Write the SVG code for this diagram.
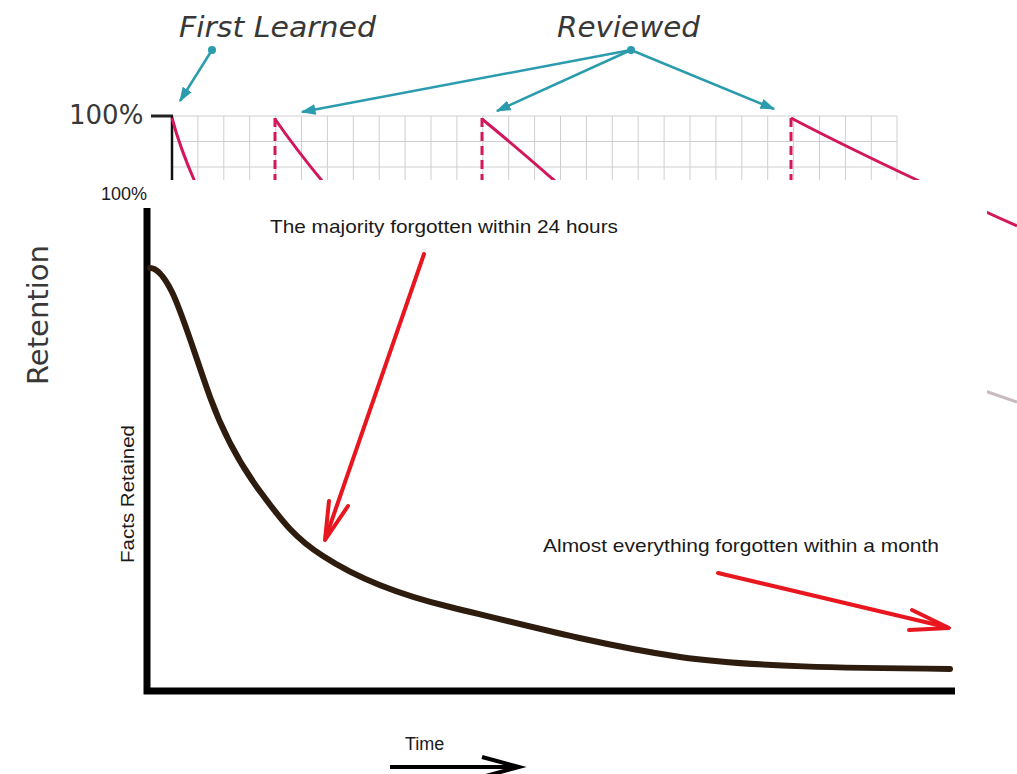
<svg xmlns="http://www.w3.org/2000/svg" width="1017" height="774" viewBox="0 0 1017 774">
<defs>
<style>
.bgtxt{font-family:"DejaVu Sans",Verdana,sans-serif;fill:#383838;}
.it{font-style:italic;}
.fgtxt{font-family:"Liberation Sans",Arial,sans-serif;fill:#1a1a1a;}
.grid line{stroke:#cfcfcf;stroke-width:1;}
.teal{stroke:#2a9cae;stroke-width:2.5;fill:none;}
.pink{stroke:#d3175c;stroke-width:3;fill:none;}
.pinkdash{stroke:#d3175c;stroke-width:3;stroke-dasharray:9 5;fill:none;}
.red{stroke:#e8161e;stroke-width:4;fill:none;stroke-linecap:round;stroke-linejoin:round;}
.axis{stroke:#000;stroke-width:7;fill:none;}
</style>
<marker id="tealHead" viewBox="0 0 10 10" refX="9" refY="5" markerWidth="6" markerHeight="6" orient="auto" markerUnits="strokeWidth">
<path d="M0,1.5 L10,5 L0,8.5 Z" fill="#2a9cae"/>
</marker>
</defs>
<rect width="1017" height="774" fill="#fff"/>

<!-- background spaced-repetition chart -->
<g id="background-chart">
  <g class="grid">
    <line x1="172" y1="116" x2="897" y2="116"/>
    <line x1="172" y1="141.5" x2="897" y2="141.5"/>
    <line x1="172" y1="167" x2="897" y2="167"/>
    <line x1="197.9" y1="116" x2="197.9" y2="180"/>
    <line x1="223.8" y1="116" x2="223.8" y2="180"/>
    <line x1="249.7" y1="116" x2="249.7" y2="180"/>
    <line x1="275.6" y1="116" x2="275.6" y2="180"/>
    <line x1="301.5" y1="116" x2="301.5" y2="180"/>
    <line x1="327.4" y1="116" x2="327.4" y2="180"/>
    <line x1="353.3" y1="116" x2="353.3" y2="180"/>
    <line x1="379.2" y1="116" x2="379.2" y2="180"/>
    <line x1="405.1" y1="116" x2="405.1" y2="180"/>
    <line x1="431" y1="116" x2="431" y2="180"/>
    <line x1="456.9" y1="116" x2="456.9" y2="180"/>
    <line x1="482.8" y1="116" x2="482.8" y2="180"/>
    <line x1="508.7" y1="116" x2="508.7" y2="180"/>
    <line x1="534.6" y1="116" x2="534.6" y2="180"/>
    <line x1="560.5" y1="116" x2="560.5" y2="180"/>
    <line x1="586.4" y1="116" x2="586.4" y2="180"/>
    <line x1="612.3" y1="116" x2="612.3" y2="180"/>
    <line x1="638.2" y1="116" x2="638.2" y2="180"/>
    <line x1="664.1" y1="116" x2="664.1" y2="180"/>
    <line x1="690" y1="116" x2="690" y2="180"/>
    <line x1="715.9" y1="116" x2="715.9" y2="180"/>
    <line x1="741.8" y1="116" x2="741.8" y2="180"/>
    <line x1="767.7" y1="116" x2="767.7" y2="180"/>
    <line x1="793.6" y1="116" x2="793.6" y2="180"/>
    <line x1="819.5" y1="116" x2="819.5" y2="180"/>
    <line x1="845.4" y1="116" x2="845.4" y2="180"/>
    <line x1="871.3" y1="116" x2="871.3" y2="180"/>
    <line x1="897" y1="116" x2="897" y2="180"/>
  </g>
  <line x1="151" y1="116" x2="173" y2="116" stroke="#222" stroke-width="3"/>
  <line x1="172" y1="116" x2="172" y2="182" stroke="#111" stroke-width="2.5"/>
  <text class="bgtxt" x="69" y="124" font-size="26">100%</text>
  <text class="bgtxt" font-size="29" transform="translate(48,385) rotate(-90)">Retention</text>
  <text class="bgtxt it" x="179" y="37" font-size="29" textLength="197" lengthAdjust="spacingAndGlyphs">First Learned</text>
  <text class="bgtxt it" x="557" y="37" font-size="29" textLength="143" lengthAdjust="spacingAndGlyphs">Reviewed</text>
  <!-- decay curves -->
  <path class="pink" d="M172,118 Q180,148 195,182"/>
  <line class="pinkdash" x1="275" y1="118" x2="275" y2="182"/>
  <path class="pink" d="M275,119 Q295,148 323,182"/>
  <line class="pinkdash" x1="482" y1="118" x2="482" y2="182"/>
  <path class="pink" d="M482,119 Q515,146 556,182"/>
  <line class="pinkdash" x1="791" y1="118" x2="791" y2="182"/>
  <path class="pink" d="M791,118 Q875,162 1017,226"/>
  <line x1="985" y1="391" x2="1017" y2="402" stroke="#c9b9c1" stroke-width="3"/>
</g>

<!-- background annotation arrows -->
<g id="background-connectors">
  <circle cx="212" cy="50" r="4" fill="#2a9cae"/>
  <circle cx="631" cy="50" r="4" fill="#2a9cae"/>
  <line class="teal" x1="212" y1="50" x2="180" y2="101" marker-end="url(#tealHead)"/>
  <line class="teal" x1="631" y1="50" x2="302" y2="112" marker-end="url(#tealHead)"/>
  <line class="teal" x1="631" y1="50" x2="497" y2="111" marker-end="url(#tealHead)"/>
  <line class="teal" x1="631" y1="50" x2="774" y2="109" marker-end="url(#tealHead)"/>
</g>

<!-- foreground forgetting-curve chart -->
<g id="forgetting-curve">
  <rect x="88" y="180" width="899" height="594" fill="#fff"/>
  <text class="fgtxt" x="101" y="200" font-size="18">100%</text>
  <text class="fgtxt" font-size="18" transform="translate(134,563) rotate(-90)" textLength="138" lengthAdjust="spacingAndGlyphs">Facts Retained</text>
  <text class="fgtxt" x="405" y="750" font-size="18">Time</text>
  <text class="fgtxt" x="270" y="233" font-size="19" textLength="348" lengthAdjust="spacingAndGlyphs">The majority forgotten within 24 hours</text>
  <text class="fgtxt" x="543" y="552" font-size="19" textLength="396" lengthAdjust="spacingAndGlyphs">Almost everything forgotten within a month</text>
  <path class="axis" d="M147,208 L147,691 L955,691"/>
  <path fill="none" stroke="#2e1c0f" stroke-width="6" stroke-linecap="round" d="M150,268 C158,268 165,278 172,292 C182,312 195,355 210,397 C222,430 240,465 262,494 C280,518 293,537 323,556 C355,577 400,595 450,607 C520,624 600,645 680,657 C750,667 850,668 950,669"/>
</g>

<g id="connectors">
  <line class="red" x1="424" y1="254" x2="326" y2="537"/>
  <polyline class="red" stroke-width="3.5" points="329,501 325,540 348,506"/>
  <line class="red" x1="718" y1="573" x2="946" y2="627"/>
  <polyline class="red" stroke-width="3.5" points="912,610 949,628 909,630"/>
  <line x1="390" y1="767" x2="516" y2="767" stroke="#000" stroke-width="4"/>
  <polyline points="482,757 519,767 482,777" fill="none" stroke="#000" stroke-width="4" stroke-linejoin="miter"/>
</g>
</svg>
